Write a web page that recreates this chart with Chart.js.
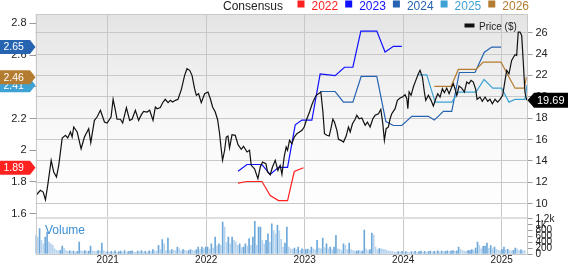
<!DOCTYPE html>
<html><head><meta charset="utf-8">
<script src="https://cdn.jsdelivr.net/npm/chart.js@4/dist/chart.umd.min.js"></script>
<style>html,body{margin:0;padding:0;background:#fff;overflow:hidden}canvas{display:block}</style>
</head><body>
<canvas id="c" width="568" height="264"></canvas>
<script>
// ---------- DATA (decimal years on x) ----------
const priceDates = [2020.277,2020.317,2020.345,2020.368,2020.391,2020.426,2020.452,2020.480,2020.503,2020.538,2020.571,2020.594,2020.622,2020.639,2020.655,2020.690,2020.730,2020.764,2020.807,2020.828,2020.865,2020.892,2020.926,2020.967,2020.994,
2021.034,2021.055,2021.078,2021.095,2021.129,2021.152,2021.190,2021.223,2021.247,2021.281,2021.314,2021.342,2021.365,2021.400,2021.426,2021.460,2021.484,2021.501,2021.534,
2021.558,2021.584,2021.613,2021.636,2021.659,2021.687,2021.714,2021.748,2021.781,2021.805,2021.832,2021.856,2021.882,2021.900,2021.923,2021.950,2021.984,
2022.018,2022.042,2022.065,2022.092,2022.116,2022.136,2022.150,2022.166,2022.187,2022.204,2022.221,2022.237,2022.262,2022.295,2022.323,2022.356,2022.379,2022.414,2022.440,2022.457,2022.491,2022.525,2022.549,2022.572,2022.606,2022.623,2022.650,2022.673,2022.701,2022.728,2022.751,2022.769,
2022.792,2022.812,2022.826,2022.846,2022.870,2022.894,2022.921,2022.947,2022.972,2022.995,
2023.022,2023.049,2023.073,2023.096,2023.117,2023.140,2023.164,2023.185,2023.201,2023.225,2023.249,2023.266,2023.286,2023.302,2023.327,2023.343,2023.367,2023.394,2023.421,2023.444,2023.462,2023.485,2023.512,2023.529,2023.553,2023.580,2023.614,2023.637,2023.664,2023.692,2023.715,2023.749,2023.773,2023.793,2023.809,2023.827,2023.850,2023.867,2023.884,2023.918,2023.941,2023.969,2023.992,
2024.019,2024.037,2024.047,2024.060,2024.080,2024.103,2024.128,2024.154,2024.171,2024.195,2024.215,2024.229,2024.256,2024.283,2024.306,2024.331,2024.351,2024.374,2024.398,2024.418,2024.442,2024.466,2024.493,2024.509,2024.526,2024.544,2024.567,2024.594,2024.621,2024.645,2024.668,2024.689,2024.712,2024.736,2024.750,2024.780,2024.803,2024.831,2024.858,2024.881,2024.905,2024.932,2024.959,2024.983,
2025.010,2025.034,2025.051,2025.074,2025.101,2025.135,2025.152,2025.168,2025.186,2025.203,2025.219,2025.236,2025.254];
const prices = [10.84,11.25,11.09,10.37,11.72,14.06,12.97,12.50,13.59,16.15,16.40,16.15,16.71,16.24,17.18,16.71,15.14,16.24,17.02,15.71,17.80,18.11,18.74,17.64,17.55,
18.11,19.77,18.74,17.90,17.90,17.55,18.98,17.80,17.90,18.74,17.80,18.33,18.64,18.58,18.74,17.80,19.05,18.89,19.00,
19.45,19.77,19.45,19.67,19.51,19.67,19.77,20.70,22.01,22.63,22.48,22.01,20.76,20.14,20.29,19.45,20.29,
20.45,19.82,19.05,18.58,17.86,16.55,15.30,14.06,15.00,16.24,16.33,15.21,16.45,16.40,15.52,15.09,15.37,14.84,15.00,13.59,13.27,12.34,13.43,13.90,13.74,12.97,12.71,13.43,14.06,13.12,13.59,12.75,
14.40,15.30,15.00,15.93,15.61,16.24,16.55,16.71,16.87,17.18,
17.95,18.58,19.26,19.77,20.14,20.29,20.45,18.58,16.55,16.40,16.33,17.02,17.90,17.64,16.87,16.02,15.93,15.77,16.33,17.18,16.71,17.48,17.90,18.27,17.95,18.02,17.33,17.64,17.18,17.95,18.27,18.42,18.83,17.48,15.93,17.02,17.18,17.95,18.42,18.89,19.67,19.89,19.98,
20.20,19.82,18.89,20.45,20.14,20.92,21.54,22.16,22.48,21.85,20.45,19.67,20.14,19.67,19.14,19.82,20.29,19.98,20.76,20.38,20.82,20.29,20.92,21.23,20.76,20.14,21.01,20.82,20.45,21.38,21.23,21.54,21.38,20.70,19.77,19.98,19.58,19.98,19.58,19.77,19.35,19.77,19.51,19.77,
20.14,21.54,22.48,22.16,23.41,23.94,23.88,26.06,26.06,25.75,23.26,20.45,19.69];

const eps2022Dates = [2022.323,2022.414,2022.566,2022.650,2022.734,2022.826,2022.894,2022.988];
const eps2022 = [1.793,1.803,1.803,1.715,1.683,1.683,1.866,1.89];
const eps2023Dates = [2022.323,2022.414,2022.566,2022.650,2022.734,2022.826,2022.904,2022.972,2023.073,2023.157,2023.309,2023.404,2023.489,2023.570,2023.732,2023.816,2023.901,2023.986];
const eps2023 = [1.868,1.910,1.910,1.847,1.892,1.892,2.16,2.19,2.19,2.481,2.47,2.523,2.523,2.751,2.751,2.619,2.655,2.655];
const eps2024Dates = [2023.157,2023.309,2023.394,2023.489,2023.573,2023.732,2023.824,2023.901,2023.986,2024.087,2024.256,2024.316,2024.408,2024.493,2024.570,2024.729,2024.824,2024.899,2024.993];
const eps2024 = [2.370,2.370,2.303,2.303,2.465,2.465,2.181,2.156,2.156,2.214,2.214,2.190,2.245,2.245,2.49,2.49,2.618,2.65,2.65];
const eps2025Dates = [2024.154,2024.239,2024.324,2024.493,2024.560,2024.739,2024.821,2024.909,2024.999,2025.074,2025.135,2025.236,2025.257];
const eps2025 = [2.475,2.475,2.303,2.303,2.366,2.366,2.446,2.391,2.391,2.303,2.32,2.32,2.41];
const eps2026Dates = [2024.316,2024.486,2024.560,2024.739,2024.813,2024.993,2025.135,2025.229,2025.250];
const eps2026 = [2.403,2.403,2.509,2.509,2.555,2.555,2.391,2.391,2.46];

// weekly volume (starting week of 2020.27)
const volumeStart = 2020.27;
const volumes = [640,580,870,470,350,580,750,410,350,300,
180,125,100,130,270,205,120,90,110,80,
100,70,90,410,110,90,120,80,100,270,
110,90,80,120,100,375,110,70,80,60,
90,70,110,60,80,100,70,120,60,80,
90,110,70,60,100,80,120,70,90,60,
110,80,150,120,90,300,150,490,350,120,
545,110,150,130,120,240,180,110,150,130,
100,120,150,130,110,140,240,150,240,180,
240,240,170,350,200,580,280,350,300,1090,
920,400,580,350,580,470,410,300,350,220,
240,350,270,530,300,580,1120,300,920,920,
470,350,470,690,400,1030,800,690,980,800,
500,240,375,920,240,180,160,200,150,240,
120,180,150,150,170,140,240,180,150,470,
200,180,545,220,350,180,240,150,240,640,
180,160,120,350,300,150,375,150,120,100,
100,120,100,100,820,180,120,150,720,660,
240,150,190,180,160,150,120,100,90,80,
70,60,80,70,90,60,80,70,60,80,
70,90,60,80,100,70,90,60,80,100,
70,90,80,110,70,100,80,90,110,80,
100,120,90,110,240,150,120,100,90,120,
120,150,130,200,410,290,180,260,270,375,
200,290,180,240,160,130,120,150,240,140,
160,120,110,130,200,180,120,140,120,110];

const yearTicks = [2021,2022,2023,2024,2025];
const priceTicks = [10,12,14,16,18,20,22,24,26];
const epsTicks = [1.6,1.8,2,2.2,2.4,2.6,2.8];
const volumeTicks = [0,200,400,600,800,1000,1200];
const seriesNames = ['2022','2023','2024','2025','2026'];

// ---------- STYLE ----------
const FONT = 'Arial, "Liberation Sans", sans-serif';
const COL = {'2022':'#ff2020','2023':'#1010ff','2024':'#2664b2','2025':'#3ea2d4','2026':'#b47c30'};
const WEEK = 7/365.25;

const pts = (xs, ys) => xs.map((x,i)=>({x, y: ys[i]}));
const lineDs = (label, xs, ys, color, axis, w) => ({type:'line', label, data: pts(xs, ys), borderColor: color, borderWidth: w, pointRadius: 0, tension: 0, fill: false, yAxisID: axis});

const volData = volumes.map((v,i)=>({x: volumeStart + i*WEEK, y: v}));
const volColors = volumes.map((v,i)=> (i===0 || v >= volumes[i-1]) ? '#6ea8da' : '#b6d3ee');

const epsSeries = {'2022':[eps2022Dates,eps2022],'2023':[eps2023Dates,eps2023],'2024':[eps2024Dates,eps2024],'2025':[eps2025Dates,eps2025],'2026':[eps2026Dates,eps2026]};

function fixedTicks(list){ return s => { s.ticks = list.map(v=>({value:v})); }; }

const decor = {
  id: 'decor',
  beforeDraw(chart){
    const {ctx, chartArea:a, scales} = chart;
    const yp = scales.y, yv = scales.yVol;
    ctx.save();
    const g = ctx.createLinearGradient(0, yp.top, 0, yp.bottom);
    g.addColorStop(0, '#e4e4e4'); g.addColorStop(0.55, '#f8f8f8'); g.addColorStop(1, '#ffffff');
    ctx.fillStyle = g;
    ctx.fillRect(a.left, yp.top, a.right - a.left, yp.bottom - yp.top);
    ctx.fillStyle = '#ffffff';
    ctx.fillRect(a.left, yv.top, a.right - a.left, yv.bottom - yv.top);
    ctx.restore();
  },
  beforeDatasetsDraw(chart){
    const {ctx, chartArea:a, scales} = chart;
    const yv = scales.yVol;
    ctx.save();
    ctx.fillStyle = '#dedede';
    ctx.fillRect(a.left, yv.top, a.right - a.left, 2);
    ctx.font = '12px ' + FONT; ctx.fillStyle = '#3b8fd2'; ctx.textBaseline = 'alphabetic';
    ctx.fillText('Volume', 45, 233.5);
    ctx.restore();
  },
  afterDraw(chart){
    const {ctx, chartArea:a, scales} = chart;
    ctx.save();
    // border
    ctx.strokeStyle = '#c8c8c8'; ctx.lineWidth = 1;
    ctx.strokeRect(Math.round(a.left)+0.5, Math.round(a.top)+0.5, Math.round(a.right-a.left)-1, Math.round(a.bottom-a.top));
    // top legend
    ctx.textBaseline = 'alphabetic';
    ctx.font = '12px ' + FONT;
    ctx.fillStyle = '#222'; ctx.textAlign = 'right';
    ctx.fillText('Consensus', 283, 10);
    ctx.textAlign = 'left';
    let x = 297.5;
    for (const n of seriesNames){
      ctx.fillStyle = COL[n];
      ctx.fillRect(x, 0.5, 7, 7);
      ctx.fillText(n, x + 14, 9.5);
      x += 14 + ctx.measureText(n).width + 7;
    }
    // price legend
    ctx.fillStyle = '#111';
    ctx.fillRect(464.5, 23.5, 10, 4);
    ctx.font = '10px ' + FONT; ctx.fillStyle = '#222';
    ctx.fillText('Price ($)', 479, 29.5);
    // left flags
    const ye = scales.yEps;
    const flags = ['2024','2025','2026','2022'];
    ctx.font = '10.5px ' + FONT; ctx.textBaseline = 'middle';
    for (const n of flags){
      const vals = epsSeries[n][1];
      const v = vals[vals.length-1];
      const y = ye.getPixelForValue(v);
      ctx.fillStyle = COL[n];
      ctx.beginPath();
      ctx.moveTo(0, y-7); ctx.lineTo(30, y-7); ctx.lineTo(35.5, y); ctx.lineTo(30, y+7); ctx.lineTo(0, y+7); ctx.closePath();
      ctx.fill();
      ctx.fillStyle = '#fff';
      ctx.fillText(v.toFixed(2), 3.5, y + 0.5);
    }
    // right price flag
    const yp = scales.y;
    const last = prices[prices.length-1];
    const py = yp.getPixelForValue(last);
    ctx.fillStyle = '#000';
    ctx.beginPath();
    ctx.moveTo(a.right, py); ctx.lineTo(a.right+6.5, py-7.5); ctx.lineTo(568, py-7.5); ctx.lineTo(568, py+7.5); ctx.lineTo(a.right+6.5, py+7.5); ctx.closePath();
    ctx.fill();
    ctx.fillStyle = '#fff'; ctx.font = '11px ' + FONT;
    ctx.fillText(last.toFixed(2), 537, py + 0.5);
    ctx.restore();
  }
};

const datasets = [
  lineDs('Price ($)', priceDates, prices, '#111', 'y', 1.2),
  lineDs('2026', eps2026Dates, eps2026, COL['2026'], 'yEps', 1.2),
  lineDs('2025', eps2025Dates, eps2025, COL['2025'], 'yEps', 1.2),
  lineDs('2024', eps2024Dates, eps2024, COL['2024'], 'yEps', 1.2),
  lineDs('2023', eps2023Dates, eps2023, COL['2023'], 'yEps', 1.2),
  lineDs('2022', eps2022Dates, eps2022, COL['2022'], 'yEps', 1.2),
  {type:'bar', label:'Volume', data: volData, backgroundColor: volColors, yAxisID:'yVol', barThickness: 1, grouped: false, borderWidth: 0}
];

new Chart(document.getElementById('c'), {
  type: 'line',
  data: { datasets },
  plugins: [decor],
  options: {
    responsive: false, animation: false, devicePixelRatio: 1,
    layout: { padding: { top: 14, left: 0, right: 0, bottom: 0 } },
    plugins: { legend: { display: false }, tooltip: { enabled: false } },
    scales: {
      x: {
        type: 'linear', position: 'bottom', min: 2020.267, max: 2025.262, offset: false,
        afterBuildTicks: fixedTicks(yearTicks),
        afterFit: s => { s.height = 10; },
        ticks: { autoSkip: false, maxRotation: 0, padding: 0, color: '#222', font: { size: 10, family: FONT }, callback: v => String(v) },
        grid: { color: '#c8c8c8', drawTicks: false, offset: false },
        border: { display: false }
      },
      y: {
        type: 'linear', position: 'right', stack: 'R', stackWeight: 203, min: 8.756, max: 27.75,
        afterBuildTicks: fixedTicks(priceTicks),
        afterFit: s => { s.width = 40.5; },
        ticks: { autoSkip: false, padding: 3, color: '#222', font: { size: 11, family: FONT } },
        grid: { color: '#c8c8c8', tickLength: 5, tickColor: '#999' },
        border: { display: false }
      },
      yVol: {
        type: 'linear', position: 'right', stack: 'R', stackWeight: 37, min: 0, max: 1268,
        afterBuildTicks: fixedTicks(volumeTicks),
        afterFit: s => { s.width = 40.5; },
        ticks: { autoSkip: false, padding: 3, color: '#222', font: { size: 10, family: FONT }, callback: v => v >= 1000 ? (v/1000) + 'k' : String(v) },
        grid: { drawOnChartArea: false, tickLength: 5, tickColor: '#999' },
        border: { display: false }
      },
      yEps: {
        type: 'linear', position: 'left', min: 1.346, max: 2.8586,
        afterBuildTicks: fixedTicks(epsTicks),
        afterFit: s => { s.width = 35.5; },
        ticks: { autoSkip: false, padding: 3, color: '#222', font: { size: 11, family: FONT }, callback: v => String(Math.round(v*10)/10) },
        grid: { drawOnChartArea: false, tickLength: 6, tickColor: '#999' },
        border: { display: false }
      }
    }
  }
});
</script>
</body></html>
